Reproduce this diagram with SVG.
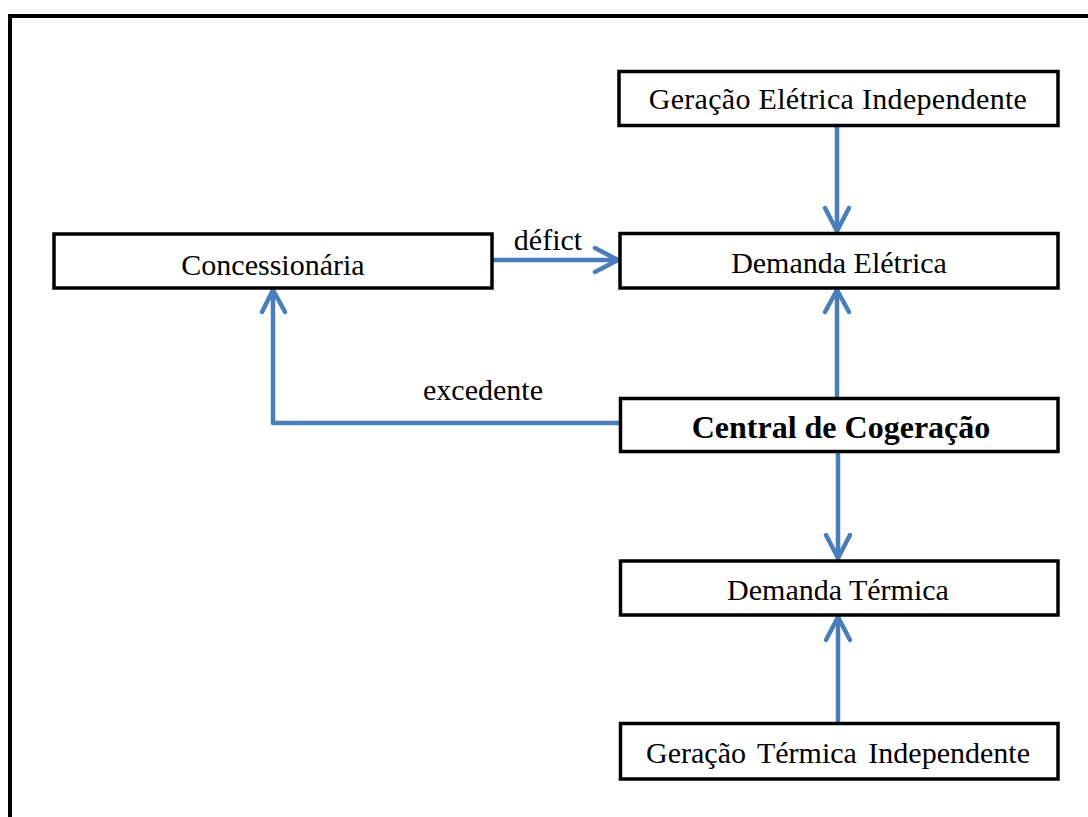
<svg xmlns="http://www.w3.org/2000/svg" width="1088" height="817" viewBox="0 0 1088 817">
<style>
.box{fill:#fff;stroke:#000;stroke-width:3.5}
.t{font-family:"Liberation Serif","Times New Roman",serif;font-size:30px;fill:#000;text-anchor:middle}
.b{font-weight:bold;font-size:32px}
.c{fill:none;stroke:#4a7ebb;stroke-width:4.5;stroke-linecap:round;stroke-linejoin:round}
</style>
<rect width="1088" height="817" fill="#fff"/>
<path d="M10,820 V16 H1092" fill="none" stroke="#000" stroke-width="4"/>
<g id="connectors">
<path class="c" d="M837,127 V231"/>
<path class="c" d="M825,208 L837,231 L849,208"/>
<path class="c" d="M494,260 H618"/>
<path class="c" d="M595,248 L618,260 L595,272"/>
<path class="c" d="M620,423 H273 V290"/>
<path class="c" d="M262,312 L273,290 L285,312"/>
<path class="c" d="M837,396 V290"/>
<path class="c" d="M825,312 L837,290 L849,312"/>
<path class="c" d="M838,453 V558"/>
<path class="c" d="M826,535 L838,558 L850,535"/>
<path class="c" d="M838,721 V617"/>
<path class="c" d="M826,640 L838,617 L850,640"/>
</g>
<g id="n1"><rect class="box" x="619" y="71.5" width="439" height="54"/><text class="t" x="838" y="109" letter-spacing="0.3">Geração Elétrica Independente</text></g>
<g id="n2"><rect class="box" x="620" y="233.5" width="438" height="54.5"/><text class="t" x="839" y="273">Demanda Elétrica</text></g>
<g id="n3"><rect class="box" x="54" y="234" width="438" height="54"/><text class="t" x="273" y="275">Concessionária</text></g>
<g id="n4"><rect class="box" x="620.5" y="398.5" width="437.5" height="53"/><text class="t b" x="841" y="438">Central de Cogeração</text></g>
<g id="n5"><rect class="box" x="620.5" y="561" width="437.5" height="54"/><text class="t" x="838" y="600">Demanda Térmica</text></g>
<g id="n6"><rect class="box" x="620.5" y="723.5" width="437.5" height="55.5"/><text class="t" x="838" y="763" word-spacing="4">Geração Térmica Independente</text></g>
<text class="t" x="548" y="250">défict</text>
<text class="t" x="483" y="400">excedente</text>
</svg>
